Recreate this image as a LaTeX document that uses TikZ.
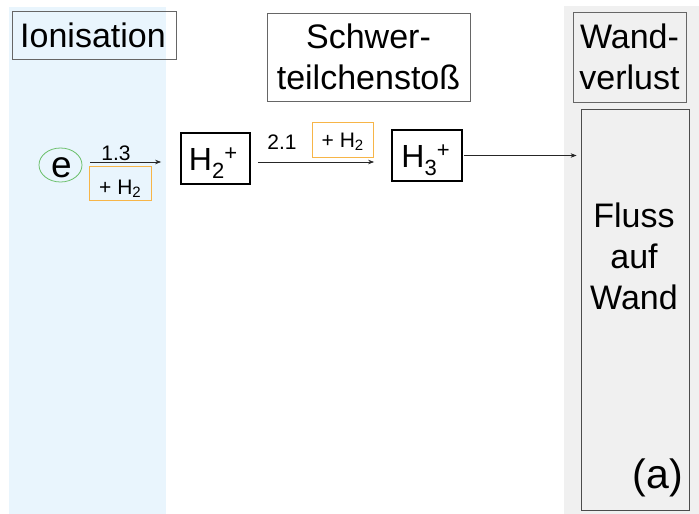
\documentclass[tikz,border=0pt]{standalone}
\usepackage{fontspec}
\setmainfont{Liberation Sans}
\usetikzlibrary{arrows.meta,shapes.geometric}
\definecolor{panelblue}{HTML}{E9F5FD}
\definecolor{panelgray}{HTML}{F0F0F0}
\definecolor{addorange}{HTML}{F7B548}
\definecolor{egreen}{HTML}{6CC06C}
\newcommand\bigf{\fontsize{34}{41}\selectfont}
\newcommand\specf{\fontsize{32}{38}\selectfont}
\newcommand\smf{\fontsize{21}{23}\selectfont}
\newcommand\ionsb[2]{H\raisebox{-8pt}{\fontsize{22}{22}\selectfont #1}\raisebox{9.5pt}{\fontsize{22}{22}\selectfont #2}}
\newcommand\plush{+ H\raisebox{-3pt}{\fontsize{15}{15}\selectfont 2}}
\begin{document}
\begin{tikzpicture}[x=1pt,y=-1pt,
 hdr/.style={draw=black!60, line width=0.8pt, inner sep=0pt, font=\bigf, align=center},
 species/.style={draw=black, line width=1.8pt, inner sep=0pt, font=\specf, text height=25pt, text depth=2pt},
 addbox/.style={draw=addorange, line width=0.8pt, inner sep=0pt, font=\smf},
 lbl/.style={inner sep=0pt, font=\smf},
 bigtxt/.style={inner sep=0pt, font=\bigf, align=center},
 arr/.style={-{Stealth[length=6pt,width=4.5pt]}, line width=0.7pt, black!85}]
\useasboundingbox (0,0) rectangle (699,514);
\fill[panelblue] (9,7) rectangle (166,514);
\fill[panelgray] (564,6) rectangle (699,514);
\node[hdr, minimum width=164pt, minimum height=48pt] (ion) at (94,35) {Ionisation\hspace*{2pt}};
\node[hdr, minimum width=203pt, minimum height=88pt] (schwer) at (368.5,57) {Schwer-\\teilchenstoß};
\node[hdr, minimum width=113pt, minimum height=90pt] (wand) at (629.5,57) {Wand-\\verlust};
\node[hdr, draw=black!70, minimum width=108pt, minimum height=401pt] (fluss) at (635,309.5) {};
\node[bigtxt] (flusstxt) at (634,256) {Fluss\\auf\\Wand};
\node[inner sep=0pt, font=\fontsize{41}{45}\selectfont] (a) at (658,477.5) {(a)};
\node[draw=egreen, line width=0.8pt, ellipse, inner sep=0pt, minimum width=43pt, minimum height=34pt] (e) at (60.5,165) {};
\node[inner sep=0pt, font=\fontsize{37}{40}\selectfont] (etxt) at (61.5,167.5) {e};
\node[species, minimum width=69pt, minimum height=51pt] (H2) at (215.5,158.5) {\ionsb{2}{+}\hspace*{5pt}};
\node[species, minimum width=70pt, minimum height=51pt] (H3) at (427,155.5) {\ionsb{3}{+}\hspace*{3pt}};
\node[addbox, minimum width=62pt, minimum height=34pt, text height=22pt, text depth=0pt] (add1) at (120,183) {\plush};
\node[addbox, minimum width=61pt, minimum height=35pt, text height=17pt, text depth=2pt] (add2) at (342.5,139.5) {\plush};
\node[lbl] (l13) at (116,153.5) {1.3};
\node[lbl] (l21) at (282,142.5) {2.1};
\draw[arr] ([shift={(8,-3)}]e.east) -- ([shift={(-19,3.5)}]H2.west);
\draw[arr] ([shift={(7,3.5)}]H2.east) -- ([shift={(-17,6.5)}]H3.west);
\draw[arr] ([xshift=1pt]H3.east) -- ([xshift=-4pt]H3.east -| fluss.west);
\end{tikzpicture}
\end{document}
